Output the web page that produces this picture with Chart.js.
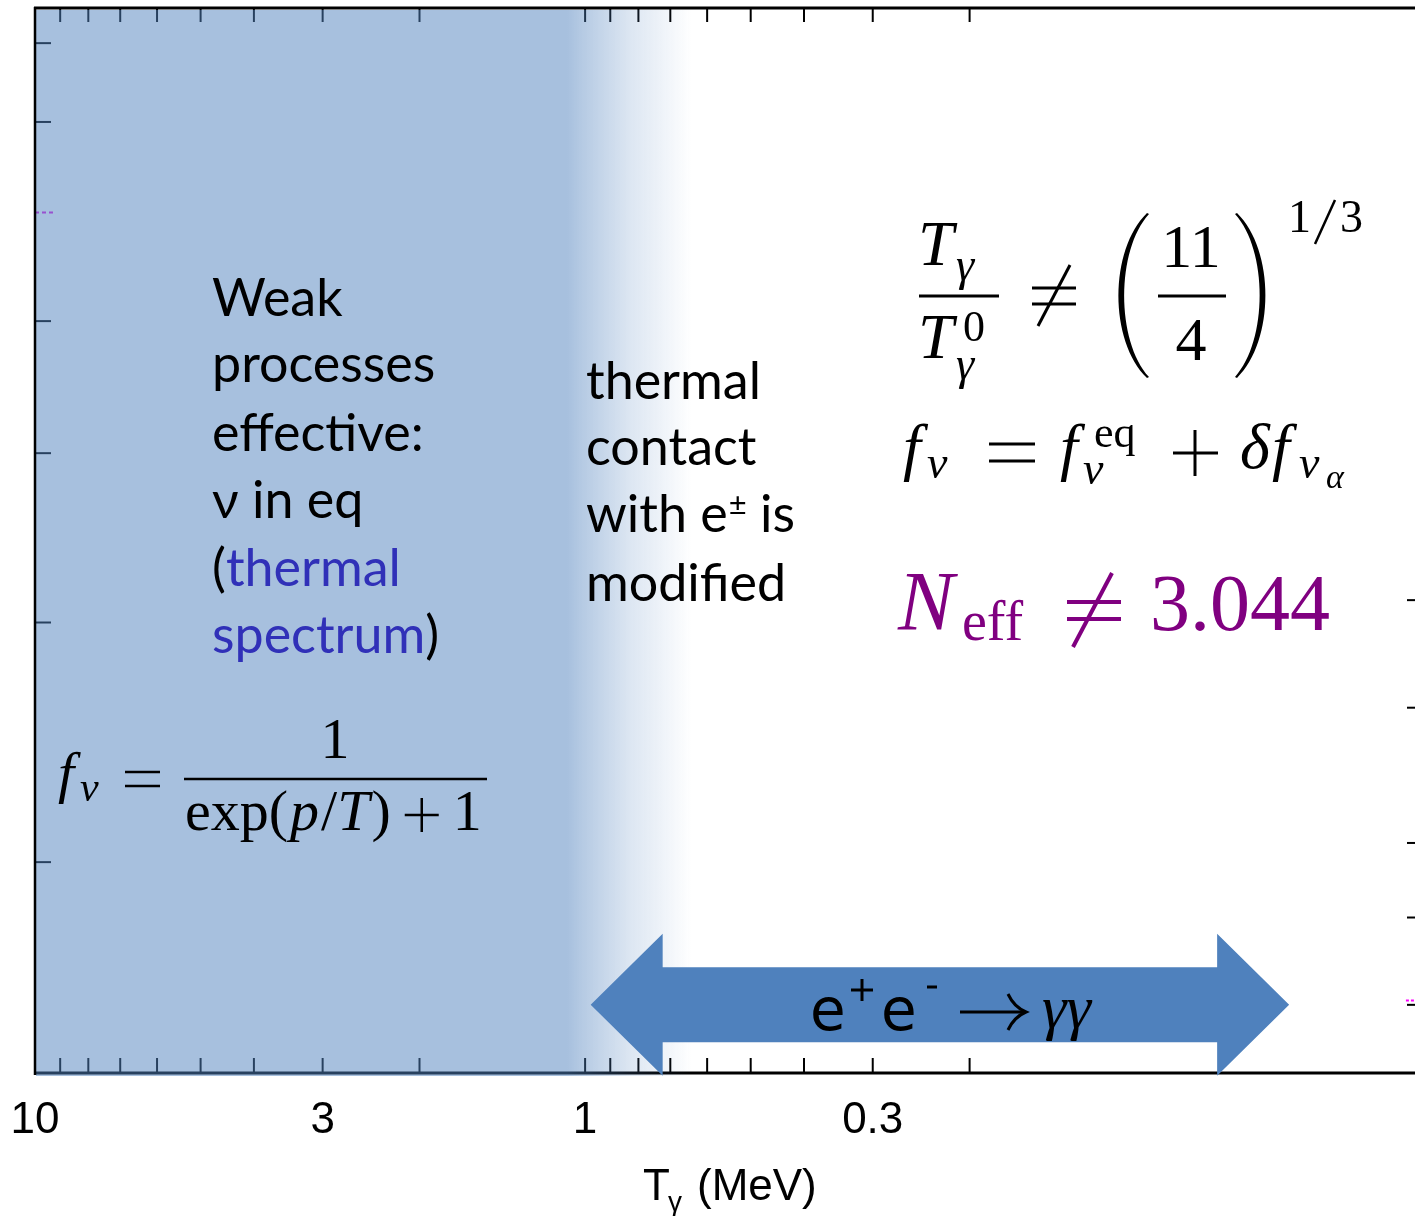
<!DOCTYPE html>
<html>
<head>
<meta charset="utf-8">
<script src="https://cdn.jsdelivr.net/npm/chart.js@4.4.0/dist/chart.umd.min.js"></script>
<style>
  html, body { margin: 0; padding: 0; background: #fff; }
  #wrap { width: 1415px; height: 1216px; }
</style>
</head>
<body>
<div id="wrap"><canvas id="myChart" width="1415" height="1216"></canvas></div>
<script>
// photon temperature axis (MeV), runs from hot (left) to cold (right)
const xMin = 0.031;
const xMax = 10;
const xTickValues = [10, 9, 8, 7, 6, 5, 4, 3, 2, 1, 0.9, 0.8, 0.7, 0.6, 0.5, 0.4, 0.3, 0.2];
const xTickLabels = ['10', '3', '1', '0.3'];

// unlabelled frame ticks on the left and right edges (0..100 vertical units)
const leftTickValues = [96.7, 89.3, 70.6, 58.2, 42.3, 19.8];
const rightTickValues = [44.4, 34.3, 21.6, 14.6, 6.4];

// stubs of the spectrum curves that poke into the frame
const curveLeftX = [10, 9.25];
const curveLeftY = [80.8, 80.8];
const curveRightX = [0.0322, 0.031];
const curveRightY = [6.8, 6.8];

// equilibrium band: solid down to fadeStart, then fades out by fadeEnd
const bandFrom = 10;
const bandFadeStart = 1.08;
const bandFadeEnd = 0.64;

// e+e- annihilation window
const arrowFrom = 0.977;
const arrowTo = 0.0525;
const arrowLevel = 6.4;

const toPoints = (xs, ys) => xs.map((x, i) => ({ x: x, y: ys[i] }));

const serif = '"Liberation Serif", "DejaVu Serif", serif';
const sans = 'Lato, "Noto Sans", sans-serif';

function put(ctx, s, x, y, font, color, align) {
    ctx.font = font;
    ctx.fillStyle = color || '#000';
    ctx.textAlign = align || 'left';
    ctx.textBaseline = 'alphabetic';
    ctx.fillText(s, x, y);
    return x + ctx.measureText(s).width;
}

function line(ctx, x1, y1, x2, y2, w, color) {
    ctx.beginPath();
    ctx.moveTo(x1, y1);
    ctx.lineTo(x2, y2);
    ctx.lineWidth = w;
    ctx.strokeStyle = color || '#000';
    ctx.stroke();
}

function neq(ctx, x1, x2, yTop, yBot, slash, w, color) {
    line(ctx, x1, yTop, x2, yTop, w, color);
    line(ctx, x1, yBot, x2, yBot, w, color);
    line(ctx, slash[0], slash[1], slash[2], slash[3], w, color);
}

// tall math bracket, dir = 1 for "(" and -1 for ")"
function paren(ctx, xEnd, yTop, yBot, bulge, dir) {
    const ym = (yTop + yBot) / 2;
    const c1 = yTop + (ym - yTop) * 0.45;
    const c2 = yBot - (yBot - ym) * 0.45;
    const out = xEnd - dir * bulge;
    const inn = xEnd - dir * (bulge - 7);
    ctx.beginPath();
    ctx.moveTo(xEnd, yTop);
    ctx.bezierCurveTo(out, c1, out, c2, xEnd, yBot);
    ctx.lineTo(xEnd + dir * 2, yBot - 1);
    ctx.bezierCurveTo(inn, c2, inn, c1, xEnd + dir * 2, yTop + 1);
    ctx.closePath();
    ctx.fillStyle = '#000';
    ctx.fill();
}

const decorations = {
    id: 'decorations',
    afterDatasetsDraw(chart) {
        const ctx = chart.ctx;
        const xs = chart.scales.x;
        const ys = chart.scales.y;
        const a = chart.chartArea;
        ctx.save();

        // inward tick marks and bottom axis line
        ctx.lineCap = 'butt';
        xTickValues.forEach(v => {
            if (v === xMax) return;
            const px = xs.getPixelForValue(v);
            line(ctx, px, a.bottom, px, a.bottom - 15, 2);
            line(ctx, px, a.top, px, a.top + 14, 2);
        });
        leftTickValues.forEach(v => {
            const py = ys.getPixelForValue(v);
            line(ctx, a.left, py, a.left + 16, py, 2);
        });
        rightTickValues.forEach(v => {
            const py = ys.getPixelForValue(v);
            line(ctx, a.right, py, a.right - 8, py, 2);
        });
        line(ctx, a.left, a.bottom, a.right, a.bottom, 3);

        // equilibrium band with soft right edge
        const bx0 = xs.getPixelForValue(bandFrom) + 1;
        const bx1 = Math.round(xs.getPixelForValue(bandFadeStart));
        const bx2 = xs.getPixelForValue(bandFadeEnd);
        const g = ctx.createLinearGradient(bx1, 0, bx2, 0);
        g.addColorStop(0, 'rgba(79,129,189,0.5)');
        g.addColorStop(0.12, 'rgba(79,129,189,0.42)');
        g.addColorStop(0.5, 'rgba(79,129,189,0.2)');
        g.addColorStop(1, 'rgba(79,129,189,0)');
        ctx.fillStyle = 'rgba(79,129,189,0.5)';
        ctx.fillRect(bx0, a.top + 2, bx1 - bx0, a.bottom - a.top + 1);
        ctx.fillStyle = g;
        ctx.fillRect(bx1, a.top + 2, bx2 - bx1, a.bottom - a.top + 1);

        // frame: left and top borders
        line(ctx, a.left, a.top - 1, a.left, a.bottom + 2, 2.5);
        line(ctx, a.left - 1, a.top, a.right, a.top, 3);

        // double arrow
        const xl = xs.getPixelForValue(arrowFrom);
        const xr = xs.getPixelForValue(arrowTo);
        const yc = ys.getPixelForValue(arrowLevel);
        const head = 72, hh = 71, sh = 37.5;
        ctx.beginPath();
        ctx.moveTo(xl, yc);
        ctx.lineTo(xl + head, yc - hh);
        ctx.lineTo(xl + head, yc - sh);
        ctx.lineTo(xr - head, yc - sh);
        ctx.lineTo(xr - head, yc - hh);
        ctx.lineTo(xr, yc);
        ctx.lineTo(xr - head, yc + hh);
        ctx.lineTo(xr - head, yc + sh);
        ctx.lineTo(xl + head, yc + sh);
        ctx.lineTo(xl + head, yc + hh);
        ctx.closePath();
        ctx.fillStyle = '#4F81BD';
        ctx.fill();

        // e+e- -> gamma gamma
        const eFont = '58px "DejaVu Sans", sans-serif';
        put(ctx, 'e', 810, 1030, eFont);
        line(ctx, 851, 990, 873, 990, 3);
        line(ctx, 862, 979, 862, 1001, 3);
        put(ctx, 'e', 881, 1030, eFont);
        line(ctx, 927, 987, 937, 987, 3);
        line(ctx, 960, 1012, 1024, 1012, 3);
        ctx.beginPath();
        ctx.moveTo(1008, 994);
        ctx.quadraticCurveTo(1014, 1007, 1026, 1012);
        ctx.quadraticCurveTo(1014, 1017, 1008, 1030);
        ctx.lineWidth = 3;
        ctx.stroke();
        put(ctx, 'γγ', 1042, 1028, 'italic 62px ' + serif);

        // text block inside the band
        const body = '52px ' + sans;
        put(ctx, 'Weak', 212, 316, body);
        put(ctx, 'processes', 212, 382, body);
        put(ctx, 'effective:', 212, 451, body);
        put(ctx, 'ν in eq', 212, 518, body);
        let cx = put(ctx, '(', 212, 586, body);
        put(ctx, 'thermal', cx, 586, body, '#3030B8');
        cx = put(ctx, 'spectrum', 212, 653, body, '#3030B8');
        put(ctx, ')', cx, 653, body);

        put(ctx, 'thermal', 586, 399, body);
        put(ctx, 'contact', 586, 465, body);
        cx = put(ctx, 'with e', 586, 532, body);
        cx = put(ctx, '±', cx + 1, 515, '31px ' + sans);
        put(ctx, ' is', cx, 532, body);
        put(ctx, 'modified', 586, 601, body);

        // f_nu = 1 / (exp(p/T) + 1)
        const m58 = '58px ' + serif, i58 = 'italic 58px ' + serif;
        put(ctx, 'f', 58, 792, i58);
        put(ctx, 'ν', 80, 801, 'italic 42px ' + serif);
        line(ctx, 125, 772, 160, 772, 2.5);
        line(ctx, 125, 786, 160, 786, 2.5);
        line(ctx, 184, 779, 487, 779, 2.5);
        put(ctx, '1', 335, 758, m58, '#000', 'center');
        cx = put(ctx, 'exp(', 185, 830, m58);
        cx = put(ctx, 'p', cx + 2, 830, i58);
        cx = put(ctx, '/', cx + 2, 830, m58);
        cx = put(ctx, 'T', cx, 830, i58);
        cx = put(ctx, ')', cx + 2, 830, m58);
        line(ctx, cx + 14, 815, cx + 48, 815, 2.5);
        line(ctx, cx + 31, 798, cx + 31, 832, 2.5);
        put(ctx, '1', cx + 62, 830, m58);

        // T_gamma / T_gamma^0 != (11/4)^(1/3)
        const m62 = '62px ' + serif, i64 = 'italic 64px ' + serif;
        const i46 = 'italic 46px ' + serif, m44 = '44px ' + serif;
        put(ctx, 'T', 918, 265, i64);
        put(ctx, 'γ', 956, 280, i46);
        line(ctx, 919, 296, 999, 296, 3);
        put(ctx, 'T', 918, 358, i64);
        put(ctx, '0', 963, 341, m44);
        put(ctx, 'γ', 956, 379, i46);
        neq(ctx, 1032, 1076, 288, 304, [1070, 265, 1038, 326], 3);
        paren(ctx, 1147, 213, 378, 38, 1);
        paren(ctx, 1237, 213, 378, 38, -1);
        put(ctx, '11', 1191, 267, m62, '#000', 'center');
        line(ctx, 1158, 296, 1226, 296, 3);
        put(ctx, '4', 1191, 360, m62, '#000', 'center');
        const m46 = '46px ' + serif;
        put(ctx, '1', 1288, 232, m46);
        line(ctx, 1335, 200, 1315, 244, 2.5);
        put(ctx, '3', 1340, 232, m46);

        // f_nu = f_nu^eq + delta f_nu_alpha
        put(ctx, 'f', 903, 468, i64);
        put(ctx, 'ν', 927, 478, i46);
        line(ctx, 989, 444, 1035, 444, 3);
        line(ctx, 989, 461, 1035, 461, 3);
        put(ctx, 'f', 1060, 468, i64);
        put(ctx, 'ν', 1083, 484, i46);
        put(ctx, 'eq', 1094, 447, m44);
        line(ctx, 1173, 453, 1218, 453, 3);
        line(ctx, 1195, 430, 1195, 476, 3);
        put(ctx, 'δ', 1240, 468, i64);
        put(ctx, 'f', 1272, 468, i64);
        put(ctx, 'ν', 1299, 478, i46);
        put(ctx, 'α', 1326, 488, 'italic 34px ' + serif);

        // N_eff != 3.044
        const purple = '#800080';
        put(ctx, 'N', 898, 630, 'italic 84px ' + serif, purple);
        put(ctx, 'eff', 962, 640, '56px ' + serif, purple);
        neq(ctx, 1067, 1121, 602, 619, [1112, 573, 1073, 647], 4, purple);
        put(ctx, '3.044', 1150, 630, '80px ' + serif, purple);

        // axis title
        const axFont = '44px "Liberation Sans", Arial, sans-serif';
        put(ctx, 'T', 643, 1200, axFont);
        put(ctx, 'γ', 668, 1211, '28px "Liberation Sans", Arial, sans-serif');
        put(ctx, '(MeV)', 697, 1200, axFont);

        ctx.restore();
    }
};

const ctx = document.getElementById('myChart').getContext('2d');
const myChart = new Chart(ctx, {
    type: 'line',
    data: {
        datasets: [{
            label: 'left stub',
            data: toPoints(curveLeftX, curveLeftY),
            borderColor: '#E020E0',
            borderWidth: 2,
            borderDash: [4, 3],
            pointRadius: 0
        }, {
            label: 'right stub',
            data: toPoints(curveRightX, curveRightY),
            borderColor: '#FF00FF',
            borderWidth: 2,
            borderDash: [3, 2],
            pointRadius: 0
        }]
    },
    options: {
        responsive: false,
        animation: false,
        events: [],
        layout: { padding: { left: 35, top: 8, right: 0, bottom: 0 } },
        plugins: {
            legend: { display: false },
            tooltip: { enabled: false }
        },
        scales: {
            x: {
                type: 'logarithmic',
                reverse: true,
                min: xMin,
                max: xMax,
                afterBuildTicks: s => { s.ticks = xTickValues.map(v => ({ value: v })); },
                afterFit: s => {
                    s.height = 143;
                    s.paddingLeft = 0;
                    s.paddingRight = 0;
                },
                grid: { display: false, drawTicks: false },
                border: { display: false },
                ticks: {
                    autoSkip: false,
                    maxRotation: 0,
                    padding: 21,
                    color: '#000',
                    font: { family: '"Liberation Sans", Arial, sans-serif', size: 44 },
                    callback: v => xTickLabels.includes(String(v)) ? String(v) : ''
                }
            },
            y: {
                type: 'linear',
                display: false,
                min: 0,
                max: 100
            }
        }
    },
    plugins: [decorations]
});
</script>
</body>
</html>
